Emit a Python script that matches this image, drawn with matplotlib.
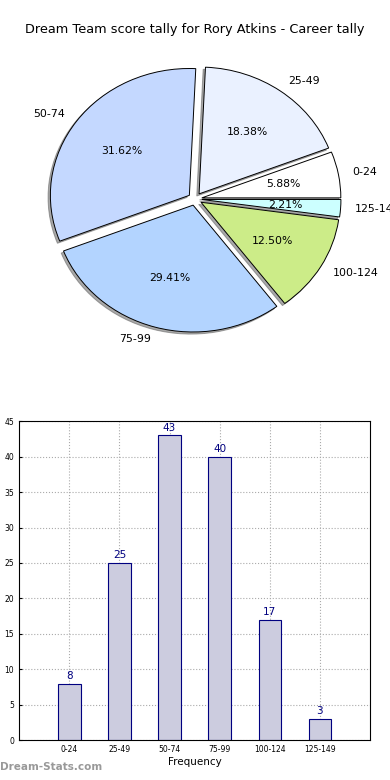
import matplotlib
matplotlib.use("Agg")
import matplotlib.pyplot as plt

categories = ["0-24", "25-49", "50-74", "75-99", "100-124", "125-149"]
counts = [8, 25, 43, 40, 17, 3]
pie_colors = ["#ffffff", "#eaf1ff", "#c4d8ff", "#b3d4ff", "#ccec88", "#ccffff"]
title = "Dream Team score tally for Rory Atkins - Career tally"

fig = plt.figure(figsize=(3.9, 7.8), dpi=100)
fig.text(0.5, 0.962, title, ha="center", va="center", fontsize=9.3)

# pie (squashed vertically like the original)
ax1 = fig.add_axes([0, 0.5513, 1, 0.3846])
wedges, texts, autotexts = ax1.pie(
    counts, labels=categories, colors=pie_colors, autopct="%1.2f%%",
    explode=[0.05] * len(counts), shadow={"ox": -0.012, "oy": -0.012, "color": "#555555"},
    startangle=0, labeldistance=1.1,
    wedgeprops={"edgecolor": "black", "linewidth": 0.7},
    textprops={"fontsize": 7.9})
for t in autotexts:
    t.set_fontsize(7.8)
ax1.set_xlim(-1.403, 1.403)
ax1.set_ylim(-1.19, 1.175)
ax1.set_aspect("auto")

# bars
ax2 = fig.add_axes([0.049, 0.051, 0.9, 0.409])
x = list(range(len(categories)))
bars = ax2.bar(x, counts, width=0.45, color="#ccccdf", edgecolor="#000080", linewidth=0.8)
for xi, c in zip(x, counts):
    ax2.text(xi, c + 0.4, str(c), ha="center", va="bottom", color="#000080", fontsize=7.5)
ax2.set_xlim(-1, 6)
ax2.set_ylim(0, 45)
ax2.set_yticks(range(0, 46, 5))
ax2.set_xticks(x)
ax2.set_xticklabels(categories)
ax2.tick_params(labelsize=5.5, length=2, direction="in")
ax2.grid(True, linestyle=":", color="#aaaaaa", linewidth=0.8)
ax2.set_axisbelow(True)
ax2.set_xlabel("Frequency", fontsize=7.5, labelpad=2)

fig.text(0.0, 0.01, "Dream-Stats.com", fontsize=7.5, color="#999999", fontweight="bold", ha="left", va="bottom")

fig.savefig("out.png", dpi=100)
